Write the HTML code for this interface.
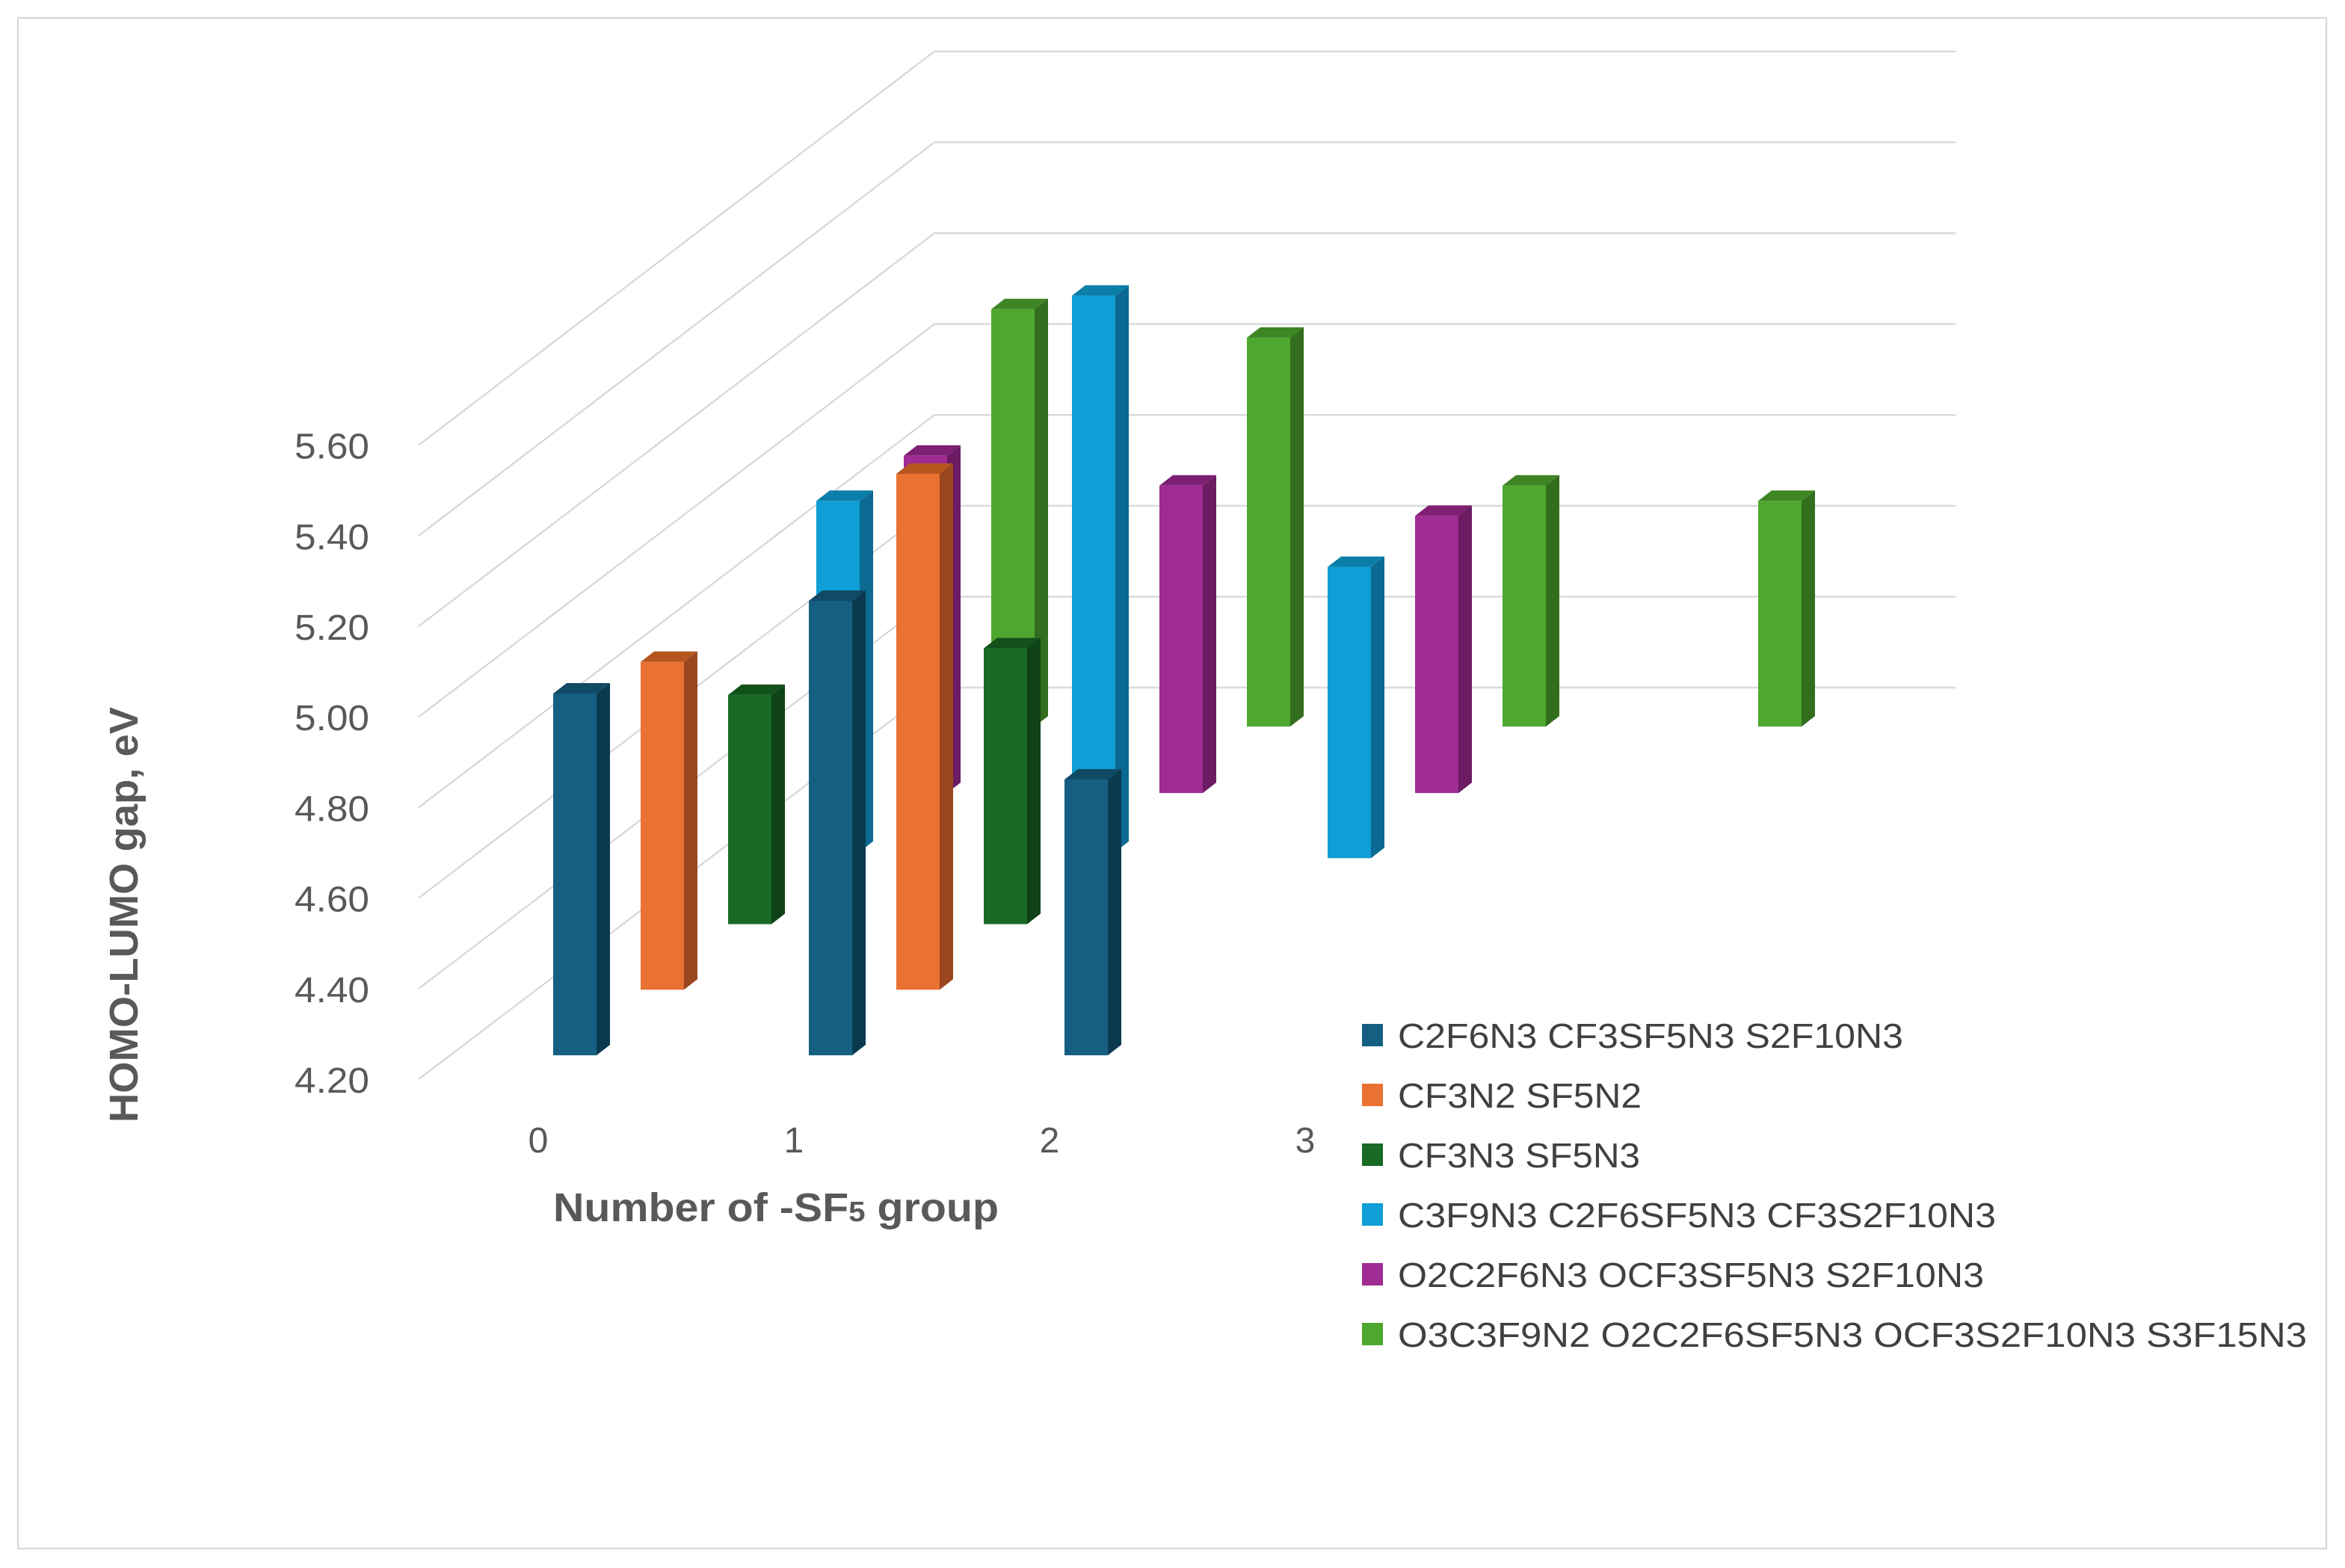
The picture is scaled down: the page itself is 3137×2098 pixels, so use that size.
<!DOCTYPE html>
<html><head><meta charset="utf-8"><style>
html,body{margin:0;padding:0;background:#fff;}
svg{display:block;}
text{font-family:"Liberation Sans",sans-serif;}
</style></head><body>
<svg id="chart" width="3137" height="2098" viewBox="0 0 1568.5 1049" xmlns="http://www.w3.org/2000/svg">
<rect x="12" y="12" width="1544" height="1024" fill="#fff" stroke="#d9d9d9" stroke-width="1.2"/>
<g id="grid"></g>
<g id="yticks"></g>
<g id="bars"></g>
<g id="xticks"></g>
<text x="370" y="817" font-size="27" font-weight="bold" fill="#595959" textLength="298" lengthAdjust="spacingAndGlyphs">Number of -SF<tspan font-size="19">5</tspan> group</text>
<text transform="translate(92,612) rotate(-90)" text-anchor="middle" font-size="27" font-weight="bold" fill="#595959" textLength="278" lengthAdjust="spacingAndGlyphs">HOMO-LUMO gap, eV</text>
<g id="legend"></g>
</svg>
<script>
const yTicks = [4.2, 4.4, 4.6, 4.8, 5.0, 5.2, 5.4, 5.6];
const xCategories = ["0", "1", "2", "3"];
const seriesNames = ["C2F6N3 CF3SF5N3 S2F10N3", "CF3N2 SF5N2", " CF3N3 SF5N3", "C3F9N3 C2F6SF5N3 CF3S2F10N3", "O2C2F6N3 OCF3SF5N3 S2F10N3", "O3C3F9N2  O2C2F6SF5N3 OCF3S2F10N3 S3F15N3"];
const s1High = [5.00, 5.205, 4.81];
const s1Low = [4.20, 4.20, 4.20];
const s2High = [5.07, 5.486];
const s2Low = [4.345, 4.345];
const s3High = [4.997, 5.10];
const s3Low = [4.49, 4.49];
const s4High = [5.426, 5.88, 5.28];
const s4Low = [4.65, 4.65, 4.636];
const s5High = [5.526, 5.46, 5.393];
const s5Low = [4.78, 4.78, 4.78];
const s6High = [5.85, 5.787, 5.46, 5.426];
const s6Low = [4.927, 4.927, 4.927, 4.927];

const faceColors = ["#156082", "#e97132", "#196b24", "#0f9ed5", "#a02b93", "#4ea72e"];
const sideColors = ["#0b3a50", "#9a4620", "#0f4216", "#0a6a91", "#6b1c62", "#336e1e"];
const topColors = ["#114a64", "#b5561f", "#13511b", "#0c7eaa", "#7e1f73", "#3e8524"];

const NS = "http://www.w3.org/2000/svg";
function mk(tag, attrs, parent) {
  const e = document.createElementNS(NS, tag);
  for (const k in attrs) e.setAttribute(k, attrs[k]);
  parent.appendChild(e);
  return e;
}
// axis functions
const yPx = v => 706 - (v - 4.2) * 302.5;
const xPx = (cat, slot, back) => 370 + cat * 171 + slot * 58.5 + (back ? 176 : 0);

// gridlines
const grid = document.getElementById('grid');
yTicks.forEach((t, i) => {
  const yf = 722 - i * 60.6, yb = 460 - i * 60.8;
  const l1 = mk('line', {x1: 280, y1: yf, x2: 625, y2: yb, stroke: '#d9d9d9', 'stroke-width': 1.2}, grid);
  
  
  const l2 = mk('line', {x1: 625, y1: yb, x2: 1308, y2: yb, stroke: '#d9d9d9', 'stroke-width': 1.2}, grid);
  
  
});
const yt = document.getElementById('yticks');
yTicks.forEach((t, i) => {
  const tx = mk('text', {x: 247, y: 731 - i * 60.6, 'text-anchor': 'end', 'font-size': 24, fill: '#595959', textLength: 50, lengthAdjust: 'spacingAndGlyphs'}, yt);
  tx.textContent = t.toFixed(2);
  
  
});
const xt = document.getElementById('xticks');
xCategories.forEach((c, i) => {
  const tx = mk('text', {x: 360 + i * 171, y: 771, 'text-anchor': 'middle', 'font-size': 24, fill: '#595959'}, xt);
  tx.textContent = c;
  
  
});

const bars = document.getElementById('bars');
function drawBar(si, cat, slot, back, lo, hi) {
  const x = xPx(cat, slot, back), w = 29, dx = 9, dy = -7;
  const yt = yPx(hi), yb = yPx(lo);
  const g = mk('g', {}, bars);
  
  
  mk('polygon', {points: `${x+w},${yt} ${x+w+dx},${yt+dy} ${x+w+dx},${yb+dy} ${x+w},${yb}`, fill: sideColors[si]}, g);
  mk('polygon', {points: `${x},${yt} ${x+dx},${yt+dy} ${x+w+dx},${yt+dy} ${x+w},${yt}`, fill: topColors[si]}, g);
  mk('rect', {x: x, y: yt, width: w, height: yb - yt, fill: faceColors[si]}, g);
}
const highs = [s1High, s2High, s3High, s4High, s5High, s6High];
const lows = [s1Low, s2Low, s3Low, s4Low, s5Low, s6Low];
// back row first
[3, 4, 5].forEach(si => highs[si].forEach((h, c) => drawBar(si, c, si - 3, true, lows[si][c], h)));
[0, 1, 2].forEach(si => highs[si].forEach((h, c) => drawBar(si, c, si, false, lows[si][c], h)));

const lg = document.getElementById('legend');
const lgLens = [338, 163, 162, 400, 392, 608];
seriesNames.forEach((n, i) => {
  const g = mk('g', {}, lg);
  
  
  mk('rect', {x: 911, y: 685 + i * 40, width: 14, height: 15, fill: faceColors[i]}, g);
  const t = mk('text', {x: 935, y: 701 + i * 40, 'font-size': 23, fill: '#404040', textLength: lgLens[i], lengthAdjust: 'spacingAndGlyphs', 'xml:space': 'preserve'}, g);
  t.textContent = n;
});
</script>
</body></html>
